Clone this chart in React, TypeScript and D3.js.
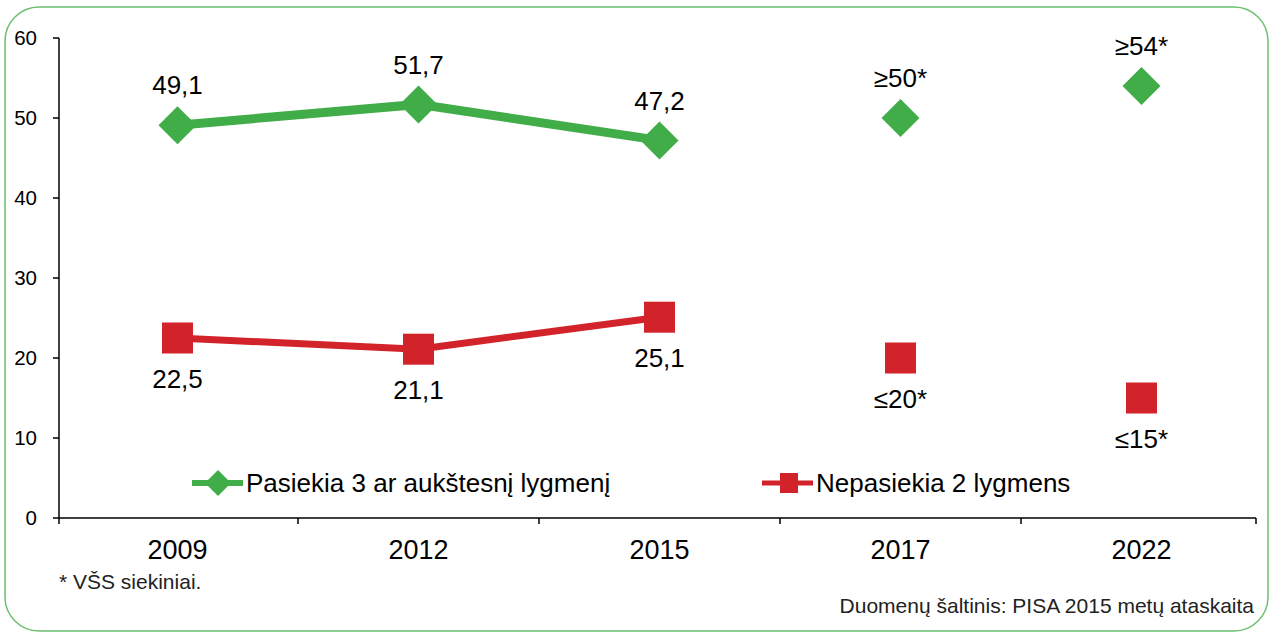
import React from "react";
import * as d3 from "d3";

const years = ["2009", "2012", "2015", "2017", "2022"];
const greenValues = [49.1, 51.7, 47.2, 50, 54];
const greenLabels = ["49,1", "51,7", "47,2", "≥50*", "≥54*"];
const redValues = [22.5, 21.1, 25.1, 20, 15];
const redLabels = ["22,5", "21,1", "25,1", "≤20*", "≤15*"];
const lineCount = 3; // first three years are connected by lines
const yTicks = [0, 10, 20, 30, 40, 50, 60];
const seriesNames = ["Pasiekia 3 ar aukštesnį lygmenį", "Nepasiekia 2 lygmens"];
const footnote = "* VŠS siekiniai.";
const source = "Duomenų šaltinis: PISA 2015 metų ataskaita";

const GREEN = "#41ad49";
const RED = "#d2232a";
const FONT = "'Liberation Sans', Arial, sans-serif";

export default function App() {
  const W = 1272, H = 634;
  const x = d3.scaleBand<string>().domain(years).range([57, 1262]);
  const y = d3.scaleLinear().domain([0, 60]).range([518, 38]);
  const cx = (yr: string) => (x(yr) as number) + x.bandwidth() / 2;

  const line = d3.line<number>().x((_, i) => cx(years[i])).y((v) => y(v));
  const greenPts = greenValues.slice(0, lineCount);
  const redPts = redValues.slice(0, lineCount);

  const diamond = (px: number, py: number, r: number) =>
    `M${px},${py - r}L${px + r},${py}L${px},${py + r}L${px - r},${py}Z`;

  const edges = [59, ...years.slice(1).map((yr) => x(yr) as number), 1256];

  return (
    <svg width={W} height={H} style={{ position: "absolute", left: 0, top: 0 }} fontFamily={FONT}>
      <rect x={5} y={7} width={1263} height={624} rx={34} ry={34} fill="white" stroke="#6cc070" strokeWidth={1.5} />
      {/* y axis */}
      <line x1={59} x2={59} y1={38} y2={518} stroke="black" strokeWidth={1.5} />
      {yTicks.map((t) => (
        <g key={t}>
          <line x1={53} x2={59} y1={y(t)} y2={y(t)} stroke="black" strokeWidth={1.5} />
          <text x={37} y={y(t)} dy="0.35em" textAnchor="end" fontSize={20.5}>{t}</text>
        </g>
      ))}
      {/* x axis */}
      <line x1={59} x2={1256} y1={518} y2={518} stroke="black" strokeWidth={1.5} />
      {edges.map((e, i) => (
        <line key={i} x1={e} x2={e} y1={518} y2={524} stroke="black" strokeWidth={1.5} />
      ))}
      {years.map((yr) => (
        <text key={yr} x={cx(yr)} y={559} textAnchor="middle" fontSize={27}>{yr}</text>
      ))}

      {/* lines */}
      <path d={line(greenPts) || ""} fill="none" stroke={GREEN} strokeWidth={9} />
      <path d={line(redPts) || ""} fill="none" stroke={RED} strokeWidth={7} />

      {/* markers */}
      {greenValues.map((v, i) => (
        <path key={"g" + i} d={diamond(cx(years[i]), y(v), 19)} fill={GREEN} />
      ))}
      {redValues.map((v, i) => (
        <rect key={"r" + i} x={cx(years[i]) - 15.5} y={y(v) - 15.5} width={31} height={31} fill={RED} />
      ))}

      {/* labels */}
      {greenValues.map((v, i) => (
        <text key={"gl" + i} x={cx(years[i])} y={y(v) - 40} dy="0.35em" textAnchor="middle" fontSize={26}>
          {greenLabels[i]}
        </text>
      ))}
      {redValues.map((v, i) => (
        <text key={"rl" + i} x={cx(years[i])} y={y(v) + 41} dy="0.35em" textAnchor="middle" fontSize={26}>
          {redLabels[i]}
        </text>
      ))}

      {/* legend */}
      <line x1={192} x2={243} y1={483} y2={483} stroke={GREEN} strokeWidth={6} />
      <path d={diamond(218, 483, 13)} fill={GREEN} />
      <text x={246} y={483} dy="0.35em" fontSize={26}>{seriesNames[0]}</text>
      <line x1={762} x2={813} y1={483} y2={483} stroke={RED} strokeWidth={5} />
      <rect x={780} y={473} width={18} height={20} fill={RED} />
      <text x={816} y={483} dy="0.35em" fontSize={26}>{seriesNames[1]}</text>

      {/* notes */}
      <text x={59} y={589} fontSize={21} fill="#222">{footnote}</text>
      <text x={1254} y={613} textAnchor="end" fontSize={21} fill="#222">{source}</text>
    </svg>
  );
}
